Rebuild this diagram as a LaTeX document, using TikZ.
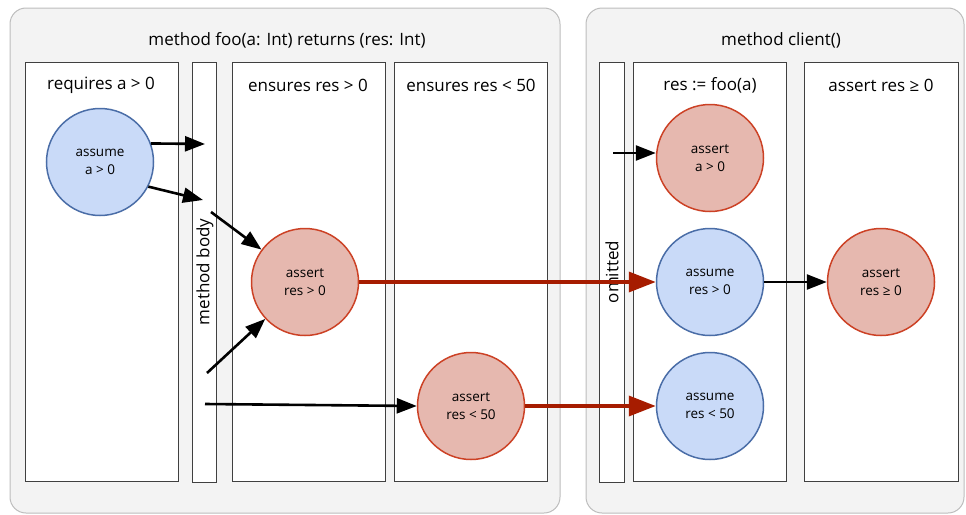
\documentclass[tikz,border=0pt]{standalone}
\usepackage{fontspec}
\setmainfont{Open Sans}
\usetikzlibrary{arrows.meta}
\definecolor{panelgray}{HTML}{F3F3F3}
\definecolor{panelline}{HTML}{BDBDBD}
\definecolor{assumefill}{HTML}{C9DAF8}
\definecolor{assumeline}{HTML}{4A6DA7}
\definecolor{assertfill}{HTML}{E6B8AF}
\definecolor{assertline}{HTML}{CC4125}
\definecolor{flowred}{HTML}{A61C00}
\begin{document}
\begin{tikzpicture}[x=1pt, y=-1pt,
        panel/.style={draw=panelline, fill=panelgray, rounded corners=16pt, line width=1pt},
        column/.style={draw=black!75, fill=white, line width=1pt},
        heading/.style={font=\fontsize{17}{20}\selectfont},
        assume/.style={circle, draw=assumeline, fill=assumefill, line width=1.5pt, minimum size=107pt, inner sep=0pt, align=center, font=\fontsize{13.5}{18.5}\selectfont},
        assert/.style={assume, draw=assertline, fill=assertfill},
        flow/.style={line width=2.6pt, -{Triangle[length=20pt,width=15pt]}},
        redflow/.style={draw=flowred, line width=3.6pt, -{Triangle[length=27pt,width=20pt]}}]
                    \useasboundingbox (0, 0) rectangle (966, 514);
                    \draw[panel] (10, 8) rectangle (560, 513);
                    \draw[panel] (586, 8) rectangle (964, 513);
                    \node[heading] (fooTitle) at (287, 40) {method foo(a: Int) returns (res: Int)};
                    \node[heading] (clientTitle) at (781, 40) {method client()};
                    \draw[column] (25, 62) rectangle (178, 481);
                    \draw[column] (192, 62) rectangle (216, 482);
                    \draw[column] (232, 62) rectangle (385, 481);
                    \draw[column] (394, 62) rectangle (547, 481);
                    \draw[column] (599, 62) rectangle (624, 482);
                    \draw[column] (633, 62) rectangle (786, 481);
                    \draw[column] (804, 62) rectangle (958, 481);
                    \node[heading] (requiresLabel) at (101, 85) {requires a > 0};
                    \node[heading, rotate=90] (bodyLabel) at (205, 272) {method body};
                    \node[heading] (ensuresPosLabel) at (308, 85) {ensures res > 0};
                    \node[heading] (ensuresLtLabel) at (471, 85) {ensures res < 50};
                    \node[heading, rotate=90] (omittedLabel) at (612, 272) {omitted};
                    \node[heading] (callLabel) at (710, 85) {res := foo(a)};
                    \node[heading] (checkLabel) at (881, 85) {assert res ≥ 0};
                    \node[assume] (reqA) at (100, 162) {assume\\a > 0};
                    \node[assert] (ensPos) at (305, 282) {assert\\res > 0};
                    \node[assert] (ensLt) at (471, 406) {assert\\res < 50};
                    \node[assert] (preA) at (710, 158) {assert\\a > 0};
                    \node[assume] (postPos) at (710, 282) {assume\\res > 0};
                    \node[assume] (postLt) at (710, 406) {assume\\res < 50};
                    \node[assert] (checkPos) at (881, 282) {assert\\res ≥ 0};
                    \coordinate (bodyIn) at (205, 144);
                    \coordinate (bodyInLow) at (203, 200);
                    \coordinate (bodyOut) at (211, 212);
                    \coordinate (bodyOutLow) at (207, 373);
                    \coordinate (bodyRet) at (205, 404);
                    \coordinate (skipIn) at (613, 153);
                    \draw[flow] (reqA.20) -- (bodyIn);
                    \draw[flow] (reqA.-27) -- (bodyInLow);
                    \draw[flow] (bodyOut) -- (ensPos);
                    \draw[flow] (bodyOutLow) -- (ensPos);
                    \draw[flow] (bodyRet) -- (ensLt.west);
                    \draw[redflow] (ensPos) -- (postPos);
                    \draw[redflow] (ensLt) -- (postLt);
                    \draw[flow] (skipIn) -- (skipIn -| preA.west);
                    \draw[flow] (postPos) -- (checkPos);
                \end{tikzpicture}
\end{document}
